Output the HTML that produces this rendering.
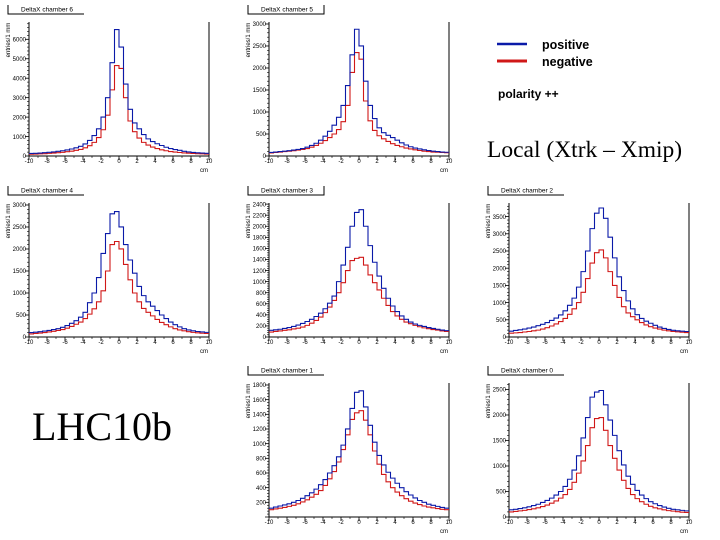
<!DOCTYPE html>
<html><head><meta charset="utf-8"><style>
html,body{margin:0;padding:0;background:#fff;}
svg{display:block;font-family:"Liberation Sans",sans-serif;}
</style></head><body>
<svg id="chart" width="720" height="540" viewBox="0 0 720 540">
<g id="panels"></g>
<g>
<line x1="497" y1="44" x2="527" y2="44" stroke="#0a1aa8" stroke-width="2.5"/>
<text x="542" y="49" font-size="12.5" font-weight="bold">positive</text>
<line x1="497" y1="61" x2="527" y2="61" stroke="#d01818" stroke-width="3"/>
<text x="542" y="66" font-size="12.5" font-weight="bold">negative</text>
<text x="498" y="98" font-size="12" font-weight="bold">polarity ++</text>
</g>
<text x="487" y="157" font-size="23.5" font-family="Liberation Serif,serif">Local (Xtrk – Xmip)</text>
<text x="32" y="440" font-size="40" font-family="Liberation Serif,serif">LHC10b</text>
</svg>
<script>
const binCenters=[-9.75,-9.25,-8.75,-8.25,-7.75,-7.25,-6.75,-6.25,-5.75,-5.25,-4.75,-4.25,-3.75,-3.25,-2.75,-2.25,-1.75,-1.25,-0.75,-0.25,0.25,0.75,1.25,1.75,2.25,2.75,3.25,3.75,4.25,4.75,5.25,5.75,6.25,6.75,7.25,7.75,8.25,8.75,9.25,9.75];
const xTicks=[-10,-8,-6,-4,-2,0,2,4,6,8,10];
const chamberNames=["DeltaX chamber 6","DeltaX chamber 5","DeltaX chamber 4","DeltaX chamber 3","DeltaX chamber 2","DeltaX chamber 1","DeltaX chamber 0"];
const ch6Pos=[130,140,150,170,190,210,240,270,310,360,420,500,620,800,1050,1400,2000,3000,4800,6500,5600,3700,2400,1700,1400,1100,880,740,630,540,450,380,330,290,240,210,185,165,150,140];
const ch6Neg=[90,100,110,120,135,150,170,190,220,250,290,340,420,530,700,950,1350,2100,3400,4650,4500,3000,1800,1250,920,700,560,460,380,320,270,230,200,180,160,145,130,120,110,100];
const ch5Pos=[80,90,100,110,120,135,150,170,200,240,290,360,450,560,700,880,1150,1600,2300,2880,2500,1700,1150,850,640,530,470,420,360,300,250,210,180,160,140,125,110,100,90,85];
const ch5Neg=[70,80,90,100,110,120,135,150,170,200,240,290,350,420,500,600,780,1150,1900,2350,2200,1250,800,580,460,390,330,280,240,210,180,160,140,125,110,100,90,85,80,75];
const ch4Pos=[100,110,120,135,150,170,190,220,260,310,370,450,560,780,1000,1350,1900,2350,2800,2850,2500,2100,1750,1450,1150,940,800,700,600,500,420,340,280,230,190,160,140,125,115,105];
const ch4Neg=[70,80,90,100,115,130,150,170,200,240,290,340,420,520,640,800,1050,1500,2100,2170,2000,1650,1300,1000,800,650,560,480,400,330,280,230,190,160,140,120,105,95,85,80];
const ch3Pos=[120,130,140,155,170,190,215,245,280,320,370,430,510,610,740,1000,1300,1620,2000,2250,2300,2000,1650,1350,1100,880,700,560,460,380,320,270,235,210,190,170,155,140,125,115];
const ch3Neg=[90,100,110,120,130,145,160,180,210,250,300,360,440,540,660,800,980,1200,1380,1420,1440,1300,1120,980,850,700,570,460,380,320,270,240,210,185,165,150,135,125,110,100];
const ch2Pos=[170,190,210,230,260,290,330,370,420,480,550,640,760,920,1130,1450,1900,2500,3150,3600,3750,3450,2900,2300,1750,1350,1050,820,650,540,460,400,340,290,250,220,195,180,170,160];
const ch2Neg=[110,120,130,145,160,180,200,230,270,320,380,450,540,660,820,1000,1300,1700,2150,2450,2530,2300,1900,1500,1150,880,700,590,500,420,350,300,260,230,200,180,160,150,140,130];
const ch1Pos=[120,135,150,165,180,200,225,255,290,330,380,440,510,600,700,820,980,1200,1480,1700,1720,1500,1250,1020,840,710,610,530,460,400,345,300,260,225,200,175,160,145,130,120];
const ch1Neg=[100,110,120,130,145,160,180,205,235,270,310,360,430,520,620,750,920,1120,1330,1420,1450,1320,1120,900,720,580,480,400,340,290,250,215,190,170,150,135,125,115,105,100];
const ch0Pos=[140,150,165,180,200,225,250,285,325,370,430,500,600,740,920,1200,1550,1950,2350,2450,2480,2200,1900,1600,1300,1020,800,640,520,430,360,300,260,225,195,170,150,140,130,120];
const ch0Neg=[100,110,120,130,145,160,180,205,235,270,315,370,440,540,680,860,1100,1400,1750,1930,1950,1700,1400,1150,920,720,560,440,360,300,250,210,180,160,140,125,115,105,95,90];
const yMaxes=[6890,3045,3045,2420,3895,1827,2627];
const yTickSteps=[1000,500,500,200,500,200,500];
const yTickMax=[6000,3000,3000,2400,3500,1800,2500];

const panelPos=[[0,0],[240,0],[0,181],[240,181],[480,181],[240,361],[480,361]];
const posSeries=[ch6Pos,ch5Pos,ch4Pos,ch3Pos,ch2Pos,ch1Pos,ch0Pos];
const negSeries=[ch6Neg,ch5Neg,ch4Neg,ch3Neg,ch2Neg,ch1Neg,ch0Neg];
const NS="http://www.w3.org/2000/svg";
const root=document.getElementById('panels');
function mk(tag,attrs,parent){const e=document.createElementNS(NS,tag);for(const k in attrs)e.setAttribute(k,attrs[k]);parent.appendChild(e);return e;}
const L=29,R=209,T=22,B=156,BW=0.5;
panelPos.forEach((p,i)=>{
  const [ox,oy]=p;
  const g=mk('g',{transform:`translate(${ox},${oy})`},root);
  
  
  const xs=v=>L+(v+10)/20*(R-L);
  const ys=v=>B-v/yMaxes[i]*(B-T);
  const tb=mk('path',{d:`M8,5 V14 H84`+((i===1||i===3)?' V5':''),fill:'none',stroke:'#000','stroke-width':1},g);
  
  
  const tt=mk('text',{x:21,y:11.5,'font-size':6.5},g);tt.textContent=chamberNames[i];
  
  
  const ax=mk('path',{d:`M${L},${T} V${B} H${R} V${T}`,fill:'none',stroke:'#000','stroke-width':1},g);
  
  
  const yt=mk('text',{x:0,y:0,'font-size':6,transform:`translate(10,${T+18}) rotate(-90)`,'text-anchor':'middle'},g);
  yt.textContent='entries/1 mm';
  
  
  const st=yTickSteps[i];
  for(let v=0;v<=yTickMax[i]+1e-6;v+=st){
    const y=ys(v);
    const tk=mk('line',{x1:L-4,x2:L,y1:y,y2:y,stroke:'#000','stroke-width':0.8},g);
    
    
    if(!(i===5&&v===0)){
      const lb=mk('text',{x:L-3,y:y+2.2,'font-size':6,'text-anchor':'end'},g);lb.textContent=v;
      
      
    }
    for(let m=1;m<5;m++){const vv=v+m*st/5;if(vv>yMaxes[i])break;const my=ys(vv);
      const mt=mk('line',{x1:L-2,x2:L,y1:my,y2:my,stroke:'#000','stroke-width':0.6},g);
      
      }
  }
  xTicks.forEach(v=>{
    const x=xs(v);
    const tk=mk('line',{x1:x,x2:x,y1:B,y2:B+4,stroke:'#000','stroke-width':0.8},g);
    
    
    const lb=mk('text',{x:x,y:B+7,'font-size':6,'text-anchor':'middle'},g);lb.textContent=v;
    
    
    if(v<10){const mx=xs(v+1);const mt=mk('line',{x1:mx,x2:mx,y1:B,y2:B+2,stroke:'#000','stroke-width':0.6},g);
      
      }
  });
  const cm=mk('text',{x:200,y:172,'font-size':6},g);cm.textContent='cm';
  
  
  [[negSeries[i],'#d01818','negative'],[posSeries[i],'#0a1aa8','positive']].forEach(([arr,col,nm])=>{
    let d='';
    arr.forEach((v,k)=>{const x0=xs(binCenters[k]-BW/2),x1=xs(binCenters[k]+BW/2),y=ys(v);
      d+=(k===0?`M${x0},${y}`:`V${y}`)+`H${x1}`;});
    const pth=mk('path',{d:d,fill:'none',stroke:col,'stroke-width':1.1},g);
    
    
  });
});
</script>
</body></html>
